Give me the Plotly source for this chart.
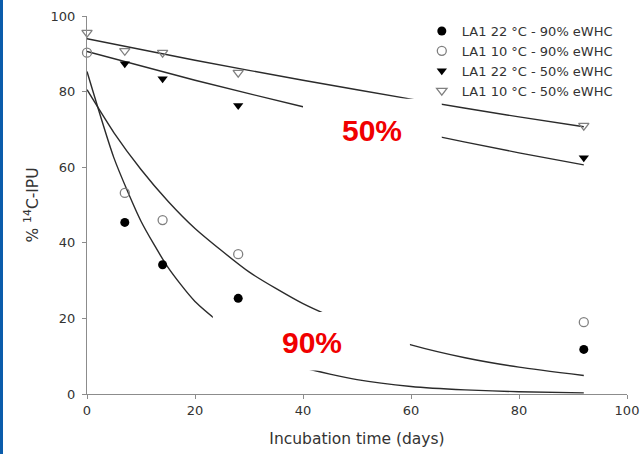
import plotly.graph_objects as go

# measured points
days_pts = [0, 7, 14, 28, 92]
la1_22_90 = [None, 45.4, 34.2, 25.3, 11.8]
la1_10_90 = [90.3, 53.2, 46.0, 37.0, 19.0]
la1_22_50 = [None, 87.4, 83.4, 76.3, 62.5]
la1_10_50 = [95.6, 90.8, 90.3, 85.0, 71.0]

# fitted curves
fit_days = [0, 5, 10, 15, 20, 30, 40, 50, 60, 70, 80, 92]
fit_22_90 = [85.3, 62.4, 45.7, 33.5, 24.5, 13.1, 7.0, 3.8, 2.0, 1.1, 0.6, 0.3]
fit_10_90 = [80.5, 69.1, 59.4, 51.0, 43.8, 32.3, 23.9, 17.6, 13.0, 9.6, 7.1, 4.9]
fit_days_50 = [0, 20, 40, 60, 80, 92]
fit_10_50 = [94.0, 88.3, 83.0, 78.0, 73.3, 70.7]
fit_22_50 = [90.6, 83.0, 76.0, 69.6, 63.8, 60.6]

names = ["LA1 22 °C - 90% eWHC", "LA1 10 °C - 90% eWHC",
         "LA1 22 °C - 50% eWHC", "LA1 10 °C - 50% eWHC"]

x_ticks = [0, 20, 40, 60, 80, 100]
y_ticks = [0, 20, 40, 60, 80, 100]

fig = go.Figure()

line_style = dict(color="#2b2b2b", width=1.4, shape="spline", smoothing=0.6)
for xs, ys in [(fit_days, fit_22_90), (fit_days, fit_10_90),
               (fit_days_50, fit_10_50), (fit_days_50, fit_22_50)]:
    fig.add_trace(go.Scatter(x=xs, y=ys, mode="lines", line=line_style,
                             showlegend=False, hoverinfo="skip", cliponaxis=False))

marker_specs = [
    (la1_22_90, dict(symbol="circle", size=9, color="black")),
    (la1_10_90, dict(symbol="circle-open", size=9, color="#808080", line=dict(width=1.3))),
    (la1_22_50, dict(symbol="triangle-down", size=9, color="black")),
    (la1_10_50, dict(symbol="triangle-down-open", size=9, color="#808080", line=dict(width=1.3))),
]
for name, (ys, mk) in zip(names, marker_specs):
    fig.add_trace(go.Scatter(x=days_pts, y=ys, mode="markers", name=name,
                             marker=mk, cliponaxis=False))

# white masking boxes with labels
fig.add_shape(type="rect", xref="x", yref="y", x0=40.0, x1=65.7, y0=60.6, y1=78.1,
              fillcolor="white", line=dict(width=0), layer="above")
fig.add_shape(type="rect", xref="x", yref="y", x0=23.3, x1=59.8, y0=6.2, y1=21.7,
              fillcolor="white", line=dict(width=0), layer="above")
fig.add_annotation(x=52.8, y=69.8, xref="x", yref="y", text="<b>50%</b>", showarrow=False,
                   font=dict(family="Liberation Sans, Arial", size=30, color="#f00000"))
fig.add_annotation(x=41.7, y=13.7, xref="x", yref="y", text="<b>90%</b>", showarrow=False,
                   font=dict(family="Liberation Sans, Arial", size=30, color="#f00000"))

# blue left border stripe
fig.add_shape(type="rect", xref="paper", yref="paper",
              x0=-87/540, x1=-84/540, y0=-60/378, y1=1 + 16/378,
              fillcolor="#0b5cab", line=dict(width=0), layer="above")

axis_common = dict(showline=True, linecolor="#8c8c8c", linewidth=1.2,
                   ticks="outside", ticklen=4, tickcolor="#8c8c8c", tickwidth=1,
                   showgrid=False, zeroline=False, automargin=False,
                   tickfont=dict(family="DejaVu Sans", size=13, color="#333333"))

fig.update_layout(
    width=644, height=454,
    margin=dict(l=87, r=17, t=16, b=60, autoexpand=False),
    paper_bgcolor="white", plot_bgcolor="white",
    font=dict(family="DejaVu Sans", size=12, color="#333333"),
    xaxis=dict(range=[0, 100], tickvals=x_ticks,
               title=dict(text="Incubation time (days)", standoff=16,
                          font=dict(family="DejaVu Sans", size=15.5, color="#333333")),
               **axis_common),
    yaxis=dict(range=[0, 100], tickvals=y_ticks, ticklabelstandoff=4,
               title=dict(text="% <sup>14</sup>C-IPU", standoff=8,
                          font=dict(family="DejaVu Sans", size=15.5, color="#333333")),
               **axis_common),
    legend=dict(x=0.62, y=1.0, xanchor="left", yanchor="top",
                bgcolor="rgba(255,255,255,0)", font=dict(family="DejaVu Sans", size=13, color="#333333"),
                itemwidth=30, tracegroupgap=0),
    showlegend=True,
)

fig.write_html("out.html", config={"displayModeBar": False},
               post_script="document.body.style.margin='0';document.body.style.overflow='hidden';")
